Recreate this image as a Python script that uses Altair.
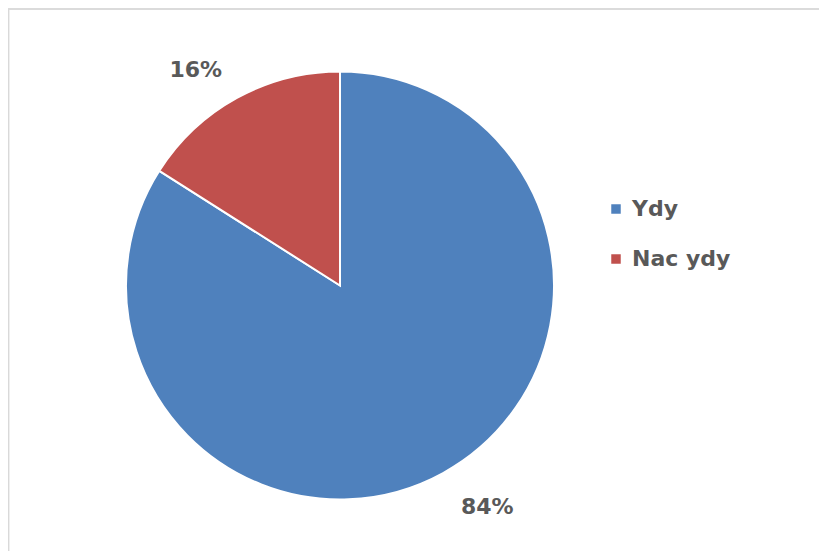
import altair as alt
import pandas as pd

categories = ["Ydy", "Nac ydy"]
values = [84, 16]
labels = ["84%", "16%"]
colors = ["#4F81BD", "#C0504D"]

df = pd.DataFrame({"cat": categories, "val": values, "lab": labels, "ord": [0, 1]})

W, H = 811, 543
CX, CY = 332, 277.5
R = 214

pie = alt.Chart(df).mark_arc(radius=R, stroke="white", strokeWidth=2).encode(
    theta=alt.Theta("val:Q", stack=True),
    order=alt.Order("ord:Q"),
    x=alt.value(CX),
    y=alt.value(CY),
    color=alt.Color(
        "cat:N",
        scale=alt.Scale(domain=categories, range=colors),
        legend=alt.Legend(
            title=None,
            orient="none",
            legendX=597,
            legendY=190,
            symbolType="square",
            symbolSize=90,
            symbolStrokeWidth=0,
            labelFontSize=22,
            labelFont="DejaVu Sans",
            labelFontWeight="bold",
            labelColor="#595959",
            rowPadding=28,
            labelOffset=5,
        ),
    ),
)

labels_base = alt.Chart(df).transform_window(
    cum="sum(val)", sort=[alt.SortField("ord")]
).transform_calculate(mid="datum.cum - datum.val / 2")


def label_layer(name, dx, dy):
    return labels_base.transform_filter(alt.datum.cat == name).mark_text(
        radius=262, fontSize=22, font="DejaVu Sans", fontWeight="bold",
        color="#595959", dx=dx, dy=dy,
    ).encode(
        theta=alt.Theta("mid:Q", stack=None, scale=alt.Scale(domain=[0, 100])),
        x=alt.value(CX),
        y=alt.value(CY),
        text="lab:N",
    )


top_border = alt.Chart(df).mark_rule(color="#d9d9d9", strokeWidth=1.5).encode(
    x=alt.value(0), x2=alt.value(W + 10), y=alt.value(1)
)
left_border = alt.Chart(df).mark_rule(color="#d9d9d9", strokeWidth=1.5).encode(
    x=alt.value(0.5), y=alt.value(1), y2=alt.value(H + 10)
)

chart = alt.layer(
    top_border,
    left_border,
    pie,
    label_layer("Nac ydy", -18, 14),
    label_layer("Ydy", 21, -8),
).properties(
    width=W, height=H,
    autosize=alt.AutoSizeParams(type="none"),
    padding=0,
).configure_view(stroke=None)

chart.save("out.html", embed_options={"renderer": "svg", "actions": False})
